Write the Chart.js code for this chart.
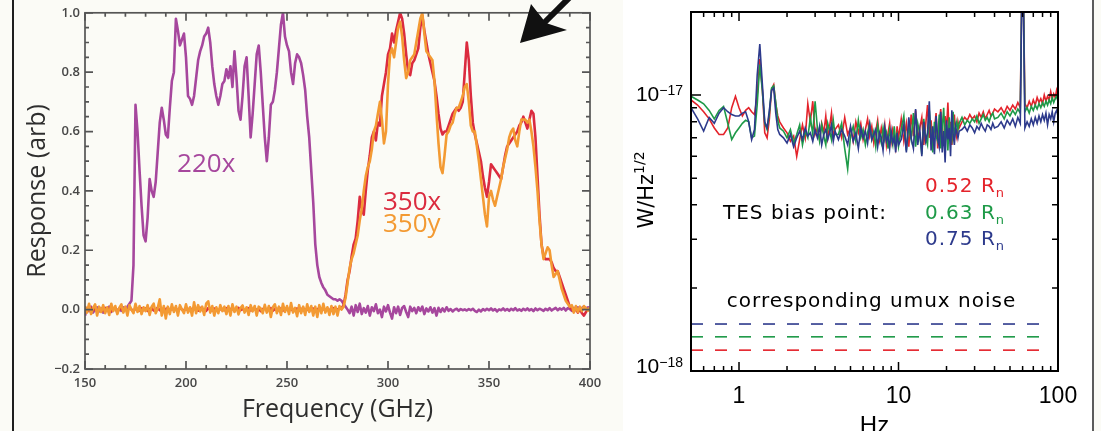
<!DOCTYPE html>
<html>
<head>
<meta charset="utf-8">
<title>Passbands and dark noise</title>
<script src="https://cdn.jsdelivr.net/npm/chart.js@4.4.1/dist/chart.umd.min.js"></script>
<style>
  html, body { margin: 0; padding: 0; background: #fbfbf6; }
  #fig { position: relative; width: 1101px; height: 431px; overflow: hidden; }
  #spectrum { position: absolute; left: 0; top: 0; }
  #psd { position: absolute; left: 623px; top: 0; background: #fff; }
  .rule { position: absolute; top: 0; width: 2px; height: 431px; }
</style>
</head>
<body>
<div id="fig">
  <canvas id="spectrum" width="623" height="431"></canvas>
  <canvas id="psd" width="470" height="460"></canvas>
  <div class="rule" style="left:12px;background:#1e1e1e"></div>
  <div class="rule" style="left:1092px;background:#5c5c5c"></div>
</div>
<script>
// optical passbands: normalised response, sampled every 1 GHz from 150 GHz
const BAND_START_GHZ = 150;
const BAND_STEP_GHZ = 1;

const RESP_220X = [
  -0.02, 0.005, -0.005, 0.01, -0.01, 0.0, 0.008, -0.006, 0.004, -0.01,
  0.006, -0.004, 0.01, -0.008, 0.002, 0.006, -0.01, 0.004, -0.004, 0.008,
  0.0, 0.01, 0.02, 0.03, 0.15, 0.69, 0.6, 0.47, 0.35, 0.25,
  0.23, 0.31, 0.44, 0.4, 0.38, 0.43, 0.53, 0.63, 0.68, 0.64,
  0.59, 0.58, 0.68, 0.77, 0.8, 0.98, 0.94, 0.89, 0.91, 0.93,
  0.85, 0.72, 0.71, 0.69, 0.72, 0.78, 0.84, 0.87, 0.89, 0.92,
  0.93, 0.95, 0.9, 0.82, 0.76, 0.72, 0.69, 0.72, 0.76, 0.77,
  0.81, 0.78, 0.82, 0.75, 0.87, 0.78, 0.67, 0.64, 0.72, 0.82,
  0.85, 0.72, 0.58, 0.66, 0.76, 0.86, 0.89, 0.8, 0.69, 0.58,
  0.5, 0.58, 0.69, 0.7, 0.74, 0.8, 0.88, 0.96, 1.0, 0.92,
  0.89, 0.87, 0.8, 0.76, 0.83, 0.86, 0.85, 0.83, 0.79, 0.74,
  0.65, 0.58, 0.47, 0.36, 0.22, 0.15, 0.11, 0.09, 0.075, 0.065,
  0.05, 0.045, 0.04, 0.035, 0.035, 0.03, 0.035, 0.03, 0.02, 0.01,
  0.0, -0.012, 0.01, -0.02, 0.015, -0.008, 0.02, -0.015, 0.005, -0.01,
  0.012, -0.02, 0.008, -0.005, 0.018, -0.012, 0.0, -0.025, 0.01, -0.006,
  0.015, -0.01, -0.03, 0.008, -0.012, 0.01, -0.018, 0.006, 0.012, -0.008,
  -0.025, 0.01, -0.005, 0.006, -0.012, 0.008, -0.004, 0.01, -0.015, 0.004,
  -0.006, 0.008, -0.01, 0.005, -0.02, 0.006, -0.008, 0.004, -0.006, 0.008,
  -0.004, 0.002, -0.006, 0.0, 0.003, -0.004, 0.002, -0.002, 0.001, -0.003,
  0.002, -0.002, 0.003, -0.004, -0.008, 0.0, -0.006, 0.002, -0.003, 0.003,
  -0.002, 0.004, -0.003, 0.002, -0.006, 0.001, -0.002, 0.004, -0.003, 0.002,
  -0.004, 0.003, -0.002, 0.005, -0.003, 0.001, -0.004, 0.003, -0.002, 0.004,
  -0.003, 0.002, -0.005, 0.004, -0.002, 0.003, 0.0, -0.004, 0.003, -0.002,
  0.005, -0.003, 0.002, 0.006, -0.002, 0.004, 0.0, 0.006, -0.003, 0.005,
  0.002, -0.004, 0.006, 0.003, 0.008, -0.002, 0.005, 0.01, 0.004, 0.008,
  0.006
];

const RESP_350X = [
  0.0, 0.005, -0.004, 0.006, -0.002, 0.004, -0.006, 0.003, 0.0, -0.004,
  0.005, -0.002, 0.004, -0.005, 0.002, 0.006, -0.003, 0.001, 0.004, -0.004,
  0.003, -0.002, 0.006, 0.0, -0.005, 0.004, 0.002, -0.003, 0.005, -0.002,
  0.004, -0.004, 0.002, 0.005, -0.003, 0.001, 0.006, -0.002, 0.003, -0.005,
  0.002, 0.005, -0.003, 0.004, -0.001, 0.003, -0.004, 0.006, 0.0, -0.003,
  0.004, -0.002, 0.005, -0.004, 0.002, 0.003, -0.003, 0.006, -0.001, 0.002,
  -0.004, 0.005, 0.0, -0.003, 0.004, 0.002, -0.005, 0.003, 0.001, -0.002,
  0.005, -0.003, 0.002, 0.004, -0.004, 0.001, 0.006, -0.002, 0.003, -0.004,
  0.002, 0.005, -0.003, 0.0, 0.004, -0.002, 0.003, -0.005, 0.002, 0.004,
  -0.003, 0.001, 0.005, -0.004, 0.002, 0.003, -0.002, 0.004, -0.003, 0.001,
  0.005, -0.002, 0.003, -0.004, 0.002, 0.004, -0.003, 0.001, 0.005, -0.002,
  0.003, -0.004, 0.002, 0.004, -0.002, 0.001, 0.005, -0.003, 0.002, -0.001,
  0.004, -0.003, 0.002, 0.005, -0.002, 0.001, 0.003, 0.005, 0.015, 0.05,
  0.1, 0.13, 0.18, 0.22, 0.24, 0.3, 0.38, 0.34, 0.32, 0.4,
  0.47, 0.52, 0.58, 0.6, 0.57, 0.63, 0.62, 0.72, 0.76, 0.8,
  0.86, 0.88, 0.93, 0.9, 0.94, 0.97, 1.0, 0.98, 0.93, 0.86,
  0.8, 0.79, 0.83, 0.84, 0.86, 0.88, 0.95, 0.99, 0.94, 0.9,
  0.86, 0.83, 0.8, 0.77, 0.72, 0.66, 0.61, 0.59, 0.6, 0.6,
  0.62, 0.64, 0.66, 0.67, 0.68, 0.67, 0.68, 0.7, 0.8, 0.9,
  0.84, 0.72, 0.63, 0.59, 0.56, 0.53, 0.5, 0.45, 0.41, 0.38,
  0.43, 0.49, 0.48, 0.47, 0.46, 0.45, 0.44, 0.48, 0.52, 0.55,
  0.56, 0.57, 0.58, 0.59, 0.6, 0.62, 0.63, 0.65, 0.63, 0.61,
  0.64, 0.67, 0.66, 0.58, 0.45, 0.32, 0.22, 0.18, 0.17, 0.17,
  0.17, 0.16, 0.14, 0.13, 0.13, 0.11, 0.09, 0.07, 0.05, 0.03,
  0.01, 0.0, -0.006, 0.004, -0.01, 0.002, -0.012, -0.02, -0.008, 0.0,
  0.004
];

const RESP_350Y = [
  0.012, -0.01, 0.02, -0.015, 0.005, 0.018, -0.02, 0.01, -0.008, 0.015,
  -0.012, 0.008, -0.018, 0.02, -0.005, 0.012, -0.015, 0.006, 0.018, -0.01,
  0.01, -0.02, 0.015, 0.0, -0.012, 0.02, -0.008, 0.012, -0.015, 0.008,
  -0.005, 0.015, -0.018, 0.01, 0.02, -0.012, 0.005, 0.035, -0.02, 0.012,
  -0.03, 0.01, -0.015, 0.018, -0.008, 0.012, -0.02, 0.015, 0.0, -0.012,
  0.018, -0.01, 0.008, -0.02, 0.025, -0.012, 0.015, -0.006, 0.01, -0.018,
  0.02, 0.028, -0.01, 0.012, -0.02, 0.008, -0.012, 0.015, -0.005, 0.01,
  -0.015, 0.012, -0.02, 0.018, -0.008, 0.01, -0.016, 0.005, 0.014, -0.01,
  0.008, -0.018, 0.015, -0.006, 0.012, -0.02, 0.01, 0.004, -0.012, 0.016,
  -0.01, 0.012, -0.025, 0.008, 0.018, -0.012, 0.01, -0.018, 0.02, -0.008,
  0.012, -0.015, 0.022, -0.01, 0.006, -0.022, 0.015, -0.012, 0.01, -0.018,
  0.018, -0.008, 0.012, -0.02, 0.01, -0.025, 0.015, -0.012, 0.02, -0.01,
  0.008, -0.018, 0.012, -0.015, 0.01, -0.02, 0.012, 0.0, 0.01, 0.04,
  0.09, 0.14, 0.17, 0.19, 0.22, 0.25, 0.3, 0.34, 0.4, 0.45,
  0.48, 0.5, 0.54, 0.6, 0.62, 0.66, 0.7, 0.64, 0.56, 0.6,
  0.76, 0.86, 0.88, 0.85, 0.9, 0.95, 0.97, 0.92, 0.84, 0.78,
  0.8, 0.84, 0.85, 0.86, 0.9, 0.94, 0.98, 1.0, 0.93, 0.87,
  0.86, 0.85, 0.84, 0.77, 0.66, 0.56, 0.48, 0.46, 0.52, 0.59,
  0.6, 0.62, 0.63, 0.66, 0.68, 0.68, 0.7, 0.72, 0.75, 0.76,
  0.7, 0.62, 0.6, 0.6, 0.55, 0.5, 0.44, 0.38, 0.32, 0.28,
  0.38, 0.4, 0.37, 0.35, 0.38, 0.41, 0.44, 0.48, 0.51, 0.54,
  0.58, 0.6, 0.61, 0.57, 0.55, 0.6, 0.64, 0.64, 0.64, 0.63,
  0.64, 0.6, 0.55, 0.48, 0.4, 0.3, 0.22, 0.17, 0.19, 0.21,
  0.2, 0.15, 0.11, 0.12, 0.13, 0.1, 0.07, 0.05, 0.03, 0.02,
  0.01, 0.015, -0.01, 0.012, -0.008, 0.01, -0.005, 0.012, 0.005, -0.004,
  0.008
];

const BAND_X_TICKS = [150, 200, 250, 300, 350, 400];
const BAND_Y_TICKS = [-0.2, 0, 0.2, 0.4, 0.6, 0.8, 1.0];

// dark NEP spectra, in units of 1e-18 W/Hz^1/2
const NEP_HZ = [
  0.5, 0.55, 0.6, 0.65, 0.7, 0.75, 0.8, 0.85, 0.9, 0.95, 1.0, 1.05, 1.1, 1.15, 1.2, 1.25, 1.3, 1.35, 1.4, 1.45, 1.5, 1.55, 1.6, 1.65, 1.7, 1.75, 1.8,
  1.9, 2.0, 2.1, 2.2, 2.3, 2.4, 2.5, 2.6, 2.7, 2.8, 2.9, 3.0, 3.1, 3.2, 3.3, 3.4, 3.5, 3.6, 3.7, 3.8, 3.9, 4.0,
  4.2, 4.4, 4.6, 4.8, 5.0, 5.2, 5.4, 5.6, 5.8, 6.0, 6.2, 6.4, 6.6, 6.8, 7.0, 7.2, 7.4, 7.6, 7.8, 8.0, 8.2, 8.4, 8.6, 8.8, 9.0, 9.2, 9.4, 9.6, 9.8, 10.0,
  10.4, 10.8, 11.2, 11.6, 12.0, 12.4, 12.8, 13.2, 13.6, 14.0, 14.4, 14.8, 15.2, 15.6, 16.0, 16.4, 16.8, 17.2, 17.6, 18.0, 18.4, 18.8, 19.2, 19.6, 20.0, 20.4, 20.8, 21.2, 21.6, 22.0, 22.4, 22.8, 23.2, 23.6, 24.0,
  25, 26, 27, 28, 29, 30, 31, 32, 33, 34, 35, 36, 37, 38, 39, 40,
  42, 44, 46, 48, 50, 52, 54, 56, 58, 60, 62, 64, 66, 68, 70, 72, 74, 76, 78, 80, 82, 84, 86, 88, 90, 92, 94, 96, 98, 100
];

const NEP_052RN = [
  9.6, 9.2, 8.7, 8.2, 7.6, 7.2, 7.2, 7.6, 9.0, 9.9, 9.0, 8.4, 8.8, 9.0, 8.7, 8.5, 10.0, 13.5, 10.5, 7.3, 7.0, 8.2, 10.5, 10.9, 9.3, 8.4, 8.0,
  7.6, 7.3, 6.8, 7.1, 6.0, 6.9, 7.8, 7.0, 9.3, 8.0, 9.5, 7.2, 7.6, 6.9, 7.9, 7.3, 8.4, 7.0, 7.7, 8.6, 7.1, 7.5,
  7.8, 7.0, 8.3, 7.2, 7.6, 6.8, 8.0, 7.3, 7.9, 6.9, 7.5, 8.2, 7.1, 7.7, 6.7, 7.4, 8.1, 6.9, 7.6, 7.0, 7.8, 6.6, 7.3, 7.9, 6.8, 7.5, 7.1, 6.5, 7.7, 7.0,
  8.2, 6.8, 7.9, 6.5, 8.5, 7.1, 8.8, 6.9, 7.6, 8.3, 6.6, 7.8, 9.2, 7.0, 8.1, 6.7, 7.5, 8.6, 6.4, 7.9, 8.9, 7.2, 6.8, 8.4, 7.5, 9.4, 7.0, 8.0, 6.6, 7.7, 8.5, 7.3, 7.0, 8.0, 7.6,
  8.0, 8.3, 8.1, 8.5, 8.2, 8.4, 8.0, 8.6, 8.3, 8.7, 8.2, 8.5, 8.8, 8.4, 8.6, 8.9,
  8.7, 9.0, 8.6, 9.1, 8.8, 9.2, 8.9, 9.4, 9.0, 40, 9.3, 9.0, 9.5, 9.1, 9.6, 9.2, 9.8, 9.4, 9.7, 9.3, 10.0, 9.5, 9.9, 9.6, 10.3, 9.7, 10.1, 9.8, 10.4, 9.9
];

const NEP_063RN = [
  9.9, 9.6, 9.3, 8.8, 8.2, 8.8, 9.1, 7.9, 6.9, 7.3, 7.6, 7.9, 8.1, 8.0, 7.0, 7.1, 9.2, 12.9, 10.4, 7.9, 7.5, 8.6, 10.6, 10.8, 9.4, 8.1, 7.6,
  7.4, 7.0, 7.5, 6.7, 7.2, 7.8, 6.6, 7.4, 7.0, 8.3, 7.2, 9.5, 7.6, 6.8, 7.8, 7.1, 6.6, 7.9, 7.4, 6.9, 8.1, 7.2,
  7.2, 7.9, 6.4, 5.4, 7.1, 7.7, 6.8, 8.1, 7.0, 7.5, 6.6, 7.3, 7.9, 6.9, 7.4, 6.5, 7.8, 7.1, 6.7, 7.6, 6.9, 7.3, 6.4, 7.5, 7.0, 6.6, 7.7, 6.8, 7.2, 6.5,
  7.5, 8.4, 6.3, 7.7, 6.9, 8.6, 6.5, 7.9, 7.2, 6.1, 8.2, 7.0, 6.6, 8.8, 7.3, 6.2, 8.0, 7.1, 6.8, 8.5, 6.4, 7.6, 9.0, 6.7, 7.8, 6.3, 8.3, 7.2, 6.9, 8.7, 7.0, 7.6, 8.0, 7.5, 7.9,
  8.3, 7.8, 8.1, 7.9, 8.2, 8.0, 8.4, 7.9, 8.2, 8.5, 8.1, 8.3, 8.0, 8.4, 8.6, 8.2,
  8.3, 8.6, 8.2, 8.7, 8.4, 8.8, 8.5, 8.9, 8.6, 40, 8.7, 9.0, 8.6, 9.1, 8.8, 9.2, 8.9, 9.3, 9.0, 9.4, 9.1, 9.5, 9.2, 9.6, 9.3, 9.8, 9.4, 9.7, 9.9, 9.5
];

const NEP_075RN = [
  9.0, 8.2, 7.4, 8.3, 7.9, 8.6, 9.0, 8.7, 8.5, 8.4, 8.4, 8.6, 8.7, 8.0, 6.9, 7.5, 11.8, 15.3, 11.0, 8.0, 7.6, 8.8, 10.4, 10.6, 8.6, 7.5, 7.2,
  7.0, 6.7, 7.2, 6.5, 7.0, 7.4, 6.9, 7.6, 7.1, 7.3, 6.8, 7.5, 7.0, 7.7, 6.6, 7.2, 7.5, 6.9, 7.3, 7.8, 6.8, 7.4,
  6.9, 7.5, 7.1, 6.6, 7.7, 6.8, 7.3, 6.4, 7.6, 7.0, 7.4, 6.7, 7.8, 6.9, 7.2, 7.5, 6.5, 7.3, 7.0, 6.3, 7.6, 6.8, 7.1, 6.4, 7.4, 6.7, 7.0, 6.2, 7.3, 6.6,
  6.9, 7.8, 6.2, 8.3, 7.0, 6.4, 8.9, 6.6, 7.5, 6.0, 8.0, 6.8, 7.3, 9.5, 6.3, 7.7, 6.1, 8.4, 7.0, 6.5, 8.7, 6.2, 7.4, 5.7, 8.1, 6.9, 7.6, 6.0, 8.8, 7.2, 6.6, 7.7, 7.3, 7.0, 7.4,
  7.5, 7.7, 7.4, 7.8, 7.6, 7.3, 7.7, 7.5, 7.9, 7.6, 7.4, 7.8, 7.7, 7.5, 7.9, 7.6,
  7.7, 8.0, 7.6, 8.1, 7.8, 8.2, 7.7, 8.3, 7.9, 40, 7.6, 8.0, 7.7, 8.2, 7.8, 8.3, 7.9, 8.4, 8.0, 8.5, 8.1, 8.6, 7.8, 8.5, 8.2, 8.7, 8.0, 8.6, 8.8, 8.4
];

// readout (umux) noise floor for each bias point, same units
const UMUX_HZ = [0.5, 83];
const UMUX_052RN = [1.19, 1.19];
const UMUX_063RN = [1.33, 1.33];
const UMUX_075RN = [1.48, 1.48];

const NEP_X_TICKS = [1, 10, 100];
const NEP_Y_TICKS = [1, 10];   // 1e-18 and 1e-17

const PURPLE = '#a6479d', RED_350 = '#db2b3f', ORANGE = '#f39a33';
const RED = '#e4232b', GREEN = '#1e9a48', BLUE = '#2d3a8c';

const bandPoints = ys => ys.map((y, i) => ({ x: BAND_START_GHZ + i * BAND_STEP_GHZ, y }));
const zip = (xs, ys) => ys.map((y, i) => ({ x: xs[i], y }));

// frame, inward ticks, band labels and the pointer arrow on the passband plot
const bandDecor = {
  id: 'bandDecor',
  afterDatasetsDraw(chart) {
    const { ctx, chartArea: a, scales: { x, y } } = chart;
    ctx.save();
    ctx.strokeStyle = '#555';
    ctx.lineWidth = 1.7;
    ctx.beginPath();
    for (let f = 150; f <= 400; f += 10) {
      const px = x.getPixelForValue(f);
      const len = f % 50 === 0 ? 8 : 4;
      ctx.moveTo(px, a.bottom); ctx.lineTo(px, a.bottom - len);
      ctx.moveTo(px, a.top); ctx.lineTo(px, a.top + len);
    }
    for (let k = -4; k <= 20; k++) {
      const py = y.getPixelForValue(k * 0.05);
      const len = k % 4 === 0 ? 8 : 4;
      ctx.moveTo(a.left, py); ctx.lineTo(a.left + len, py);
      ctx.moveTo(a.right, py); ctx.lineTo(a.right - len, py);
    }
    ctx.stroke();
    ctx.strokeRect(a.left, a.top, a.width, a.height);

    ctx.font = '26px "Open Sans"';
    ctx.textBaseline = 'middle';
    ctx.textAlign = 'center';
    ctx.fillStyle = PURPLE;
    ctx.fillText('220x', x.getPixelForValue(210), y.getPixelForValue(0.49));
    ctx.textAlign = 'left';
    ctx.fillStyle = RED_350;
    ctx.fillText('350x', x.getPixelForValue(297.5), y.getPixelForValue(0.36));
    ctx.fillStyle = ORANGE;
    ctx.fillText('350y', x.getPixelForValue(297.5), y.getPixelForValue(0.285));

    // arrow pointing into the upper right of the plot
    ctx.fillStyle = '#111';
    ctx.beginPath();
    ctx.moveTo(520, 43);
    ctx.lineTo(531, 4);
    ctx.lineTo(546, 23);
    ctx.lineTo(567, 30);
    ctx.closePath();
    ctx.fill();
    ctx.strokeStyle = '#111';
    ctx.lineWidth = 6;
    ctx.beginPath();
    ctx.moveTo(543, 24);
    ctx.lineTo(571, -4);
    ctx.stroke();
    ctx.restore();
  }
};

function textWithScript(ctx, x, y, parts) {
  // parts: [text, font, dy]; draws left to right from x, returns total width
  let cx = x;
  for (const [t, font, dy] of parts) {
    ctx.font = font;
    ctx.fillText(t, cx, y + dy);
    cx += ctx.measureText(t).width;
  }
  return cx - x;
}

function measureParts(ctx, parts) {
  let w = 0;
  for (const [t, font] of parts) { ctx.font = font; w += ctx.measureText(t).width; }
  return w;
}

// frame, log ticks, power-of-ten labels and annotations on the NEP plot
const psdDecor = {
  id: 'psdDecor',
  afterDatasetsDraw(chart) {
    const { ctx, chartArea: a, scales: { x, y } } = chart;
    ctx.save();
    ctx.strokeStyle = '#000';
    ctx.lineWidth = 1.5;
    ctx.beginPath();
    for (const d of [0.1, 1, 10]) {
      for (let m = 1; m <= 9; m++) {
        const f = m * d;
        if (f < 0.5 || f > 100) continue;
        const px = x.getPixelForValue(f);
        const len = m === 1 ? 9 : 5;
        ctx.moveTo(px, a.bottom); ctx.lineTo(px, a.bottom - len);
        ctx.moveTo(px, a.top); ctx.lineTo(px, a.top + len);
      }
    }
    for (const d of [1, 10]) {
      for (let m = 1; m <= 9; m++) {
        const v = m * d;
        if (v > 20) continue;
        const py = y.getPixelForValue(v);
        const len = m === 1 ? 10 : 6;
        ctx.moveTo(a.left, py); ctx.lineTo(a.left + len, py);
        ctx.moveTo(a.right, py); ctx.lineTo(a.right - len, py);
      }
    }
    ctx.stroke();
    ctx.lineWidth = 2;
    ctx.strokeRect(a.left, a.top, a.width, a.height);

    ctx.fillStyle = '#000';
    ctx.textAlign = 'left';
    ctx.textBaseline = 'alphabetic';
    for (const v of NEP_Y_TICKS) {
      const py = y.getPixelForValue(v);
      const exp = Math.round(Math.log10(v)) - 18;
      const parts = [['10', '21px "Liberation Sans"', 0], ['\u2212' + Math.abs(exp), '14px "Liberation Sans"', -6]];
      const w = measureParts(ctx, parts);
      textWithScript(ctx, a.left - 8 - w, Math.min(py + 6, a.bottom + 2), parts);
    }

    // y title, rotated
    ctx.save();
    ctx.translate(22, 190);
    ctx.rotate(-Math.PI / 2);
    const title = [['W/Hz', '21px "DejaVu Sans"', 0], ['1/2', '14px "DejaVu Sans"', -9]];
    textWithScript(ctx, -measureParts(ctx, title) / 2, 8, title);
    ctx.restore();

    ctx.letterSpacing = '1px';
    const rn = (val, color, px, py) => {
      ctx.fillStyle = color;
      textWithScript(ctx, px, py, [[val + ' R', '20px "DejaVu Sans"', 0], ['n', '13px "DejaVu Sans"', 5]]);
    };
    rn('0.52', RED, 302, 192);
    rn('0.63', GREEN, 302, 219);
    rn('0.75', BLUE, 302, 245);
    ctx.fillStyle = '#000';
    ctx.font = '20px "DejaVu Sans"';
    ctx.fillText('TES bias point:', 100, 219);
    ctx.textAlign = 'center';
    ctx.fillText('corresponding umux noise', (a.left + a.right) / 2 - 3, 307);
    ctx.restore();
  }
};

Chart.defaults.font.family = '"Open Sans", sans-serif';

new Chart(document.getElementById('spectrum'), {
  type: 'line',
  data: {
    datasets: [
      { label: '350y', data: bandPoints(RESP_350Y), borderColor: ORANGE, order: 1 },
      { label: '350x', data: bandPoints(RESP_350X), borderColor: RED_350, order: 2 },
      { label: '220x', data: bandPoints(RESP_220X), borderColor: PURPLE, order: 3 }
    ]
  },
  options: {
    responsive: false,
    animation: false,
    layout: { padding: { left: 0, right: 33, top: 12, bottom: 0 } },
    elements: { point: { radius: 0 }, line: { borderWidth: 2.6, tension: 0, borderJoinStyle: 'round' } },
    plugins: { legend: { display: false }, tooltip: { enabled: false } },
    scales: {
      x: {
        type: 'linear', min: 150, max: 400,
        afterBuildTicks: s => { s.ticks = BAND_X_TICKS.map(v => ({ value: v })); },
        afterFit: s => { s.height = 62; },
        grid: { display: false, drawTicks: false },
        border: { display: false },
        ticks: { color: '#474747', font: { size: 13, weight: '600' }, padding: 6, maxRotation: 0, autoSkip: false },
        title: { display: true, text: 'Frequency (GHz)', color: '#2e2e2e', font: { size: 25 }, padding: { top: 0, bottom: 6 } }
      },
      y: {
        min: -0.2, max: 1.0,
        afterBuildTicks: s => { s.ticks = BAND_Y_TICKS.map(v => ({ value: v })); },
        afterFit: s => { s.width = 85; },
        grid: { display: false, drawTicks: false },
        border: { display: false },
        ticks: {
          color: '#474747', font: { size: 13, weight: '600' }, padding: 5,
          callback: v => v < 0 ? '\u2212' + Math.abs(v).toFixed(1) : v.toFixed(1)
        },
        title: { display: true, text: 'Response (arb)', color: '#2e2e2e', font: { size: 25 }, padding: { top: 23, bottom: 0 } }
      }
    }
  },
  plugins: [bandDecor]
});

new Chart(document.getElementById('psd'), {
  type: 'line',
  data: {
    datasets: [
      { data: zip(NEP_HZ, NEP_075RN), borderColor: BLUE, order: 1 },
      { data: zip(NEP_HZ, NEP_063RN), borderColor: GREEN, order: 2 },
      { data: zip(NEP_HZ, NEP_052RN), borderColor: RED, order: 3 },
      { data: zip(UMUX_HZ, UMUX_075RN), borderColor: BLUE, borderDash: [12, 12], order: 4 },
      { data: zip(UMUX_HZ, UMUX_063RN), borderColor: GREEN, borderDash: [12, 12], order: 5 },
      { data: zip(UMUX_HZ, UMUX_052RN), borderColor: RED, borderDash: [12, 12], order: 6 }
    ]
  },
  options: {
    responsive: false,
    animation: false,
    layout: { padding: { left: 0, right: 35, top: 12, bottom: 0 } },
    elements: { point: { radius: 0 }, line: { borderWidth: 1.6, tension: 0 } },
    plugins: { legend: { display: false }, tooltip: { enabled: false } },
    scales: {
      x: {
        type: 'logarithmic', min: 0.5, max: 100,
        afterBuildTicks: s => { s.ticks = NEP_X_TICKS.map(v => ({ value: v })); },
        afterFit: s => { s.height = 89; },
        grid: { display: false, drawTicks: false },
        border: { display: false },
        ticks: {
          color: '#000', font: { family: '"Liberation Sans"', size: 23 }, padding: 12,
          maxRotation: 0, autoSkip: false, callback: v => String(v)
        },
        title: { display: true, text: 'Hz', color: '#000', font: { family: '"Liberation Sans"', size: 24 }, padding: { top: 0, bottom: 19 } }
      },
      y: {
        type: 'logarithmic', min: 1, max: 20,
        afterFit: s => { s.width = 68; },
        grid: { display: false, drawTicks: false },
        border: { display: false },
        ticks: { display: false }
      }
    }
  },
  plugins: [psdDecor]
});
</script>
</body>
</html>
